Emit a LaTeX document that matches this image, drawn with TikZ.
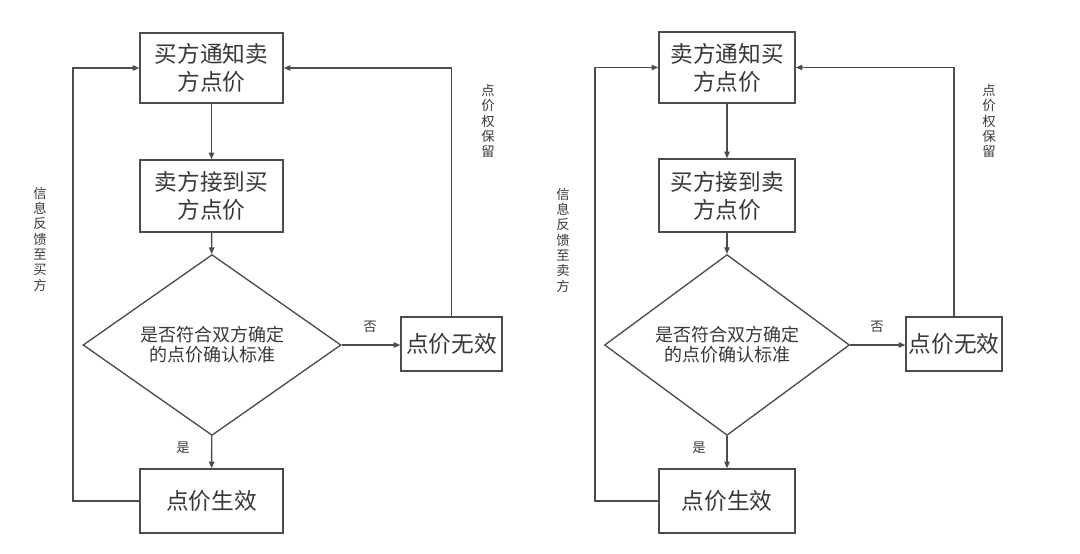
\documentclass[tikz,border=0pt]{standalone}
\usepackage{fontspec}
\newfontfamily\cjk{Noto Sans CJK SC}
\usetikzlibrary{shapes.geometric,arrows.meta}

\begin{document}
\begin{tikzpicture}[x=0.75pt,y=0.75pt,yscale=-1,xscale=1,
  color=black!70, line width=1pt,
  box/.style={draw, rectangle, inner sep=0pt, align=center, text=black!78, font=\cjk\fontsize{17}{21}\selectfont},
  decision/.style={draw, diamond, inner sep=0pt, align=center, text=black!78, font=\cjk\fontsize{13.5}{15}\selectfont},
  note/.style={inner sep=0pt, align=center, text=black!78, font=\cjk\fontsize{10}{11.5}\selectfont},
  flow/.style={-{Triangle[length=5pt,width=4pt]}}]
\useasboundingbox (0,0) rectangle (1080,553);

%Left chart: buyer notifies
\node [box, minimum width=107.25pt, minimum height=52.5pt] (bnotify) at (211.5,68) {买方通知卖\\方点价};
\node [box, minimum width=107.25pt, minimum height=54pt] (breceive) at (211.5,196) {卖方接到买\\方点价};
\node [decision, minimum width=193.5pt, minimum height=112.5pt] (bcheck) at (212,345) {是否符合双方确定\\的点价确认标准};
\node [box, minimum width=107.25pt, minimum height=48pt] (bvalid) at (211.5,501) {点价生效};
\node [box, minimum width=75.75pt, minimum height=40.5pt] (binvalid) at (451.5,344) {点价无效};
\coordinate (bfeed) at (73,501);

%Left chart: connectors
\draw [flow] (bnotify) -- (breceive);
\draw [flow] (breceive) -- (bcheck);
\draw [flow] (bcheck) -- (bvalid);
\draw [flow] (bcheck.east) -- (bcheck.east -| binvalid.west);
\draw [flow] (bvalid.west) -- (bfeed) |- (bnotify.west);
\draw [flow] (binvalid.north) |- (bnotify.east);

% Text Node
\node [note] (bfeedtxt) at (40,239) {信\\息\\反\\馈\\至\\买\\方};
% Text Node
\node [note] (bkeeptxt) at (488,121) {点\\价\\权\\保\\留};
% Text Node
\node [note] (bnotxt) at (370,327) {否};
% Text Node
\node [note] (byestxt) at (183,448) {是};

%Right chart: seller notifies
\node [box, minimum width=102pt, minimum height=53.25pt] (snotify) at (727,67.5) {卖方通知买\\方点价};
\node [box, minimum width=102pt, minimum height=54.75pt] (sreceive) at (727,195.5) {买方接到卖\\方点价};
\node [decision, minimum width=183.75pt, minimum height=112.5pt] (scheck) at (727,345) {是否符合双方确定\\的点价确认标准};
\node [box, minimum width=102pt, minimum height=48pt] (svalid) at (727,501) {点价生效};
\node [box, minimum width=72pt, minimum height=40.5pt] (sinvalid) at (954,344) {点价无效};
\coordinate (sfeed) at (595,501);

%Right chart: connectors
\draw [flow] (snotify) -- (sreceive);
\draw [flow] (sreceive) -- (scheck);
\draw [flow] (scheck) -- (svalid);
\draw [flow] (scheck.east) -- (scheck.east -| sinvalid.west);
\draw [flow] (svalid.west) -- (sfeed) |- (snotify.west);
\draw [flow] (sinvalid.north) |- (snotify.east);

% Text Node
\node [note] (sfeedtxt) at (563,240) {信\\息\\反\\馈\\至\\卖\\方};
% Text Node
\node [note] (skeeptxt) at (989,121) {点\\价\\权\\保\\留};
% Text Node
\node [note] (snotxt) at (877,327) {否};
% Text Node
\node [note] (syestxt) at (699,448) {是};
\end{tikzpicture}
\end{document}
